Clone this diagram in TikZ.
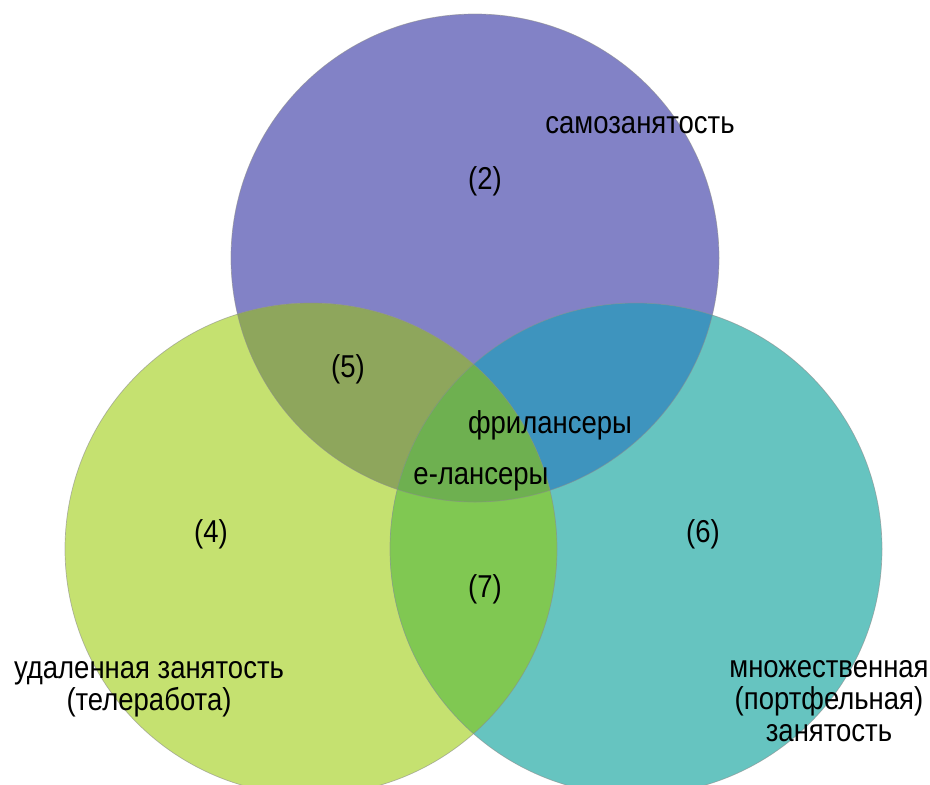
\documentclass[tikz,border=0pt]{standalone}
\usepackage{fontspec}
\usepackage{graphicx}
\setmainfont{Liberation Sans}
\definecolor{cPurple}{RGB}{130,130,198}
\definecolor{cLime}{RGB}{197,225,112}
\definecolor{cTeal}{RGB}{102,196,192}
\definecolor{cOlive}{RGB}{142,166,92}
\definecolor{cBlue}{RGB}{62,148,190}
\definecolor{cGreen}{RGB}{128,200,82}
\definecolor{cMid}{RGB}{110,176,80}
\newcommand{\tallt}[1]{\scalebox{1}[1.15]{#1}}
\tikzset{
  lbl/.style={font=\fontsize{27.5}{32}\selectfont, text=black, inner sep=0pt, align=center},
  rim/.style={draw=black!45, line width=0.7pt, draw opacity=0.6}
}
\begin{document}
\begin{tikzpicture}[x=1pt,y=-1pt]
\useasboundingbox (0,0) rectangle (930,785);
\fill[white] (0,0) rectangle (930,785);
\coordinate (T) at (475,258);
\coordinate (L) at (311,549);
\coordinate (R) at (636,549);
\begin{scope}
  \clip (0,0) rectangle (930,785);
  \fill[cPurple] (T) circle (244pt);
  \fill[cLime] (L) circle (246pt);
  \fill[cTeal] (R) circle (246pt);
  \begin{scope}
    \clip (T) circle (244pt);
    \fill[cOlive] (L) circle (246pt);
    \fill[cBlue] (R) circle (246pt);
  \end{scope}
  \begin{scope}
    \clip (L) circle (246pt);
    \fill[cGreen] (R) circle (246pt);
  \end{scope}
  \begin{scope}
    \clip (T) circle (244pt);
    \clip (L) circle (246pt);
    \fill[cMid] (R) circle (246pt);
  \end{scope}
  \draw[rim] (T) circle (244pt);
  \draw[rim] (L) circle (246pt);
  \draw[rim] (R) circle (246pt);
\end{scope}
\node[lbl] (self) at (640,125) {\tallt{самозанятость}};
\node[lbl] (n2) at (485,181) {\tallt{(2)}};
\node[lbl] (n5) at (348,369) {\tallt{(5)}};
\node[lbl] (free) at (550,425) {\tallt{фрилансеры}};
\node[lbl] (elan) at (481,479) {\tallt{е-лансеры}};
\node[lbl] (n4) at (211,534) {\tallt{(4)}};
\node[lbl] (n6) at (703,534) {\tallt{(6)}};
\node[lbl] (n7) at (485,589) {\tallt{(7)}};
\node[lbl] (remote) at (149,689) {\tallt{удаленная занятость}\\\tallt{(телеработа)}};
\node[lbl] (multi) at (829,701) {\tallt{множественная}\\\tallt{(портфельная)}\\\tallt{занятость}};
\end{tikzpicture}
\end{document}
